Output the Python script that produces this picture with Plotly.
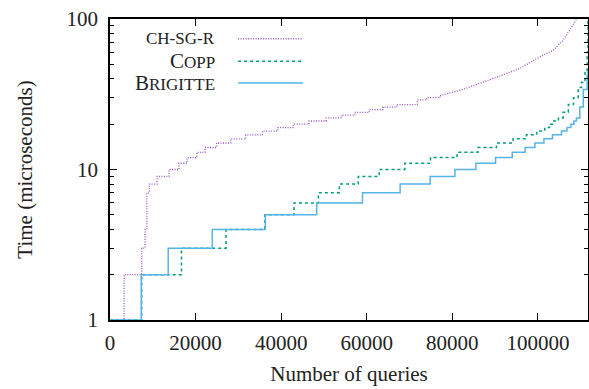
import plotly.graph_objects as go

# CH-SG-R (purple, dotted) step points
ch_x = [0, 3300, 7400, 8200, 8600, 9200, 11000, 13800, 16100, 18000, 20300, 22200, 24900,
        28200, 31700, 35600, 39200, 42800, 46500, 50500, 54100, 57200, 60600, 63800, 67000,
        71800, 74000, 77100]
ch_y = [1, 2, 3, 4, 7, 8, 9, 10, 11, 12, 13, 14, 15,
        16, 17, 18, 19, 20, 21, 22, 23, 24, 25, 26, 27,
        29, 30, 31]
# CH-SG-R smooth tail
ch_tail_x = [77100, 81800, 86400, 91100, 95800, 99700, 103600, 105900, 107500, 108900, 109600]
ch_tail_y = [31, 33.6, 37.3, 41.7, 46.9, 54.7, 62.1, 72.4, 84.5, 98.5, 110]

# COPP (green, dashed)
copp_x = [0, 7400, 16700, 27100, 36200, 43000, 48700, 53600, 58000, 62900, 68900, 74900,
          81100, 86000, 90300, 94200, 97300, 99700, 101600, 102700, 103700, 104800, 105900,
          107100, 108300, 109400, 110200, 111000, 111500, 111700]
copp_y = [1, 2, 3, 4, 5, 6, 7, 8, 9, 10, 11, 12,
          13, 14, 15, 16, 17, 18, 19, 20, 21, 22, 24,
          27, 30, 35, 38, 44, 60, 100]

# BRIGITTE (blue, solid)
brig_x = [0, 7300, 13600, 23900, 36300, 48300, 59000, 67800, 74800, 80600, 85500, 90100,
          94000, 97000, 99300, 101400, 103400, 105500, 106800, 107700, 108400, 109000,
          109800, 110600, 111500, 111700]
brig_y = [1, 2, 3, 4, 5, 6, 7, 8, 9, 10, 11, 12,
          13, 14, 15, 16, 17, 18, 19, 20, 21, 22,
          26, 34, 42, 45]

x_ticks = [0, 20000, 40000, 60000, 80000, 100000]
y_ticks = [1, 10, 100]

PURPLE = "#9a55c8"
GREEN = "#009e73"
BLUE = "#56b4e9"
FONT = "Liberation Serif"
TXT = "#222222"

fig = go.Figure()
fig.add_trace(go.Scatter(x=ch_x, y=ch_y, mode="lines", line_shape="hv",
                         line=dict(color=PURPLE, width=1.3, dash="1px,1.5px"), showlegend=False))
fig.add_trace(go.Scatter(x=ch_tail_x, y=ch_tail_y, mode="lines",
                         line=dict(color=PURPLE, width=1.3, dash="1px,1.5px"), showlegend=False))
fig.add_trace(go.Scatter(x=copp_x, y=copp_y, mode="lines", line_shape="hv",
                         line=dict(color=GREEN, width=1.5, dash="3px,3px"), showlegend=False))
fig.add_trace(go.Scatter(x=brig_x, y=brig_y, mode="lines", line_shape="hv",
                         line=dict(color=BLUE, width=1.5), showlegend=False))

# manual gnuplot-style legend (text right, sample line on right)
SC = "font-size:17px"
legend_items = [
    (f"<span style='{SC}'>CH-SG-R</span>", PURPLE, "1px,1.5px", 0.934),
    (f"C<span style='{SC}'>OPP</span>", GREEN, "3px,3px", 0.860),
    (f"B<span style='{SC}'>RIGITTE</span>", BLUE, "solid", 0.787),
]
for txt, col, dash, yp in legend_items:
    fig.add_annotation(x=0.224, y=yp, xref="paper", yref="paper", text=txt,
                       showarrow=False, xanchor="right", yanchor="middle",
                       font=dict(family=FONT, size=21, color=TXT))
    fig.add_shape(type="line", xref="paper", yref="paper", x0=0.268, x1=0.404,
                  y0=yp, y1=yp, line=dict(color=col, width=1.5, dash=dash))

axis_common = dict(showline=True, linecolor="black", linewidth=1.5, mirror="allticks",
                   ticks="inside", ticklen=7, tickwidth=1.2, tickcolor="black",
                   showgrid=False, zeroline=False, automargin=False,
                   tickfont=dict(family=FONT, size=21, color=TXT))

fig.update_layout(
    template="none",
    width=589, height=389,
    margin=dict(l=110, r=1, t=19, b=69),
    paper_bgcolor="white", plot_bgcolor="white",
    font=dict(family=FONT, color=TXT),
    xaxis=dict(range=[0, 111700], tickvals=x_ticks, ticktext=[str(v) for v in x_ticks],
               ticklabelstandoff=3,
               title=dict(text="Number of queries", font=dict(family=FONT, size=21, color=TXT),
                          standoff=12),
               **axis_common),
    yaxis=dict(type="log", range=[0, 2], tickvals=y_ticks, ticktext=[str(v) for v in y_ticks],
               ticklabelstandoff=6,
               minor=dict(tickvals=[2, 3, 4, 5, 6, 7, 8, 9, 20, 30, 40, 50, 60, 70, 80, 90],
                          ticks="inside", ticklen=4, tickcolor="black", showgrid=False),
               title=dict(text="Time (microseconds)", font=dict(family=FONT, size=21, color=TXT),
                          standoff=28),
               **axis_common),
)

fig.write_html("out.html", config={"displayModeBar": False},
               post_script="document.body.style.margin='0';")
